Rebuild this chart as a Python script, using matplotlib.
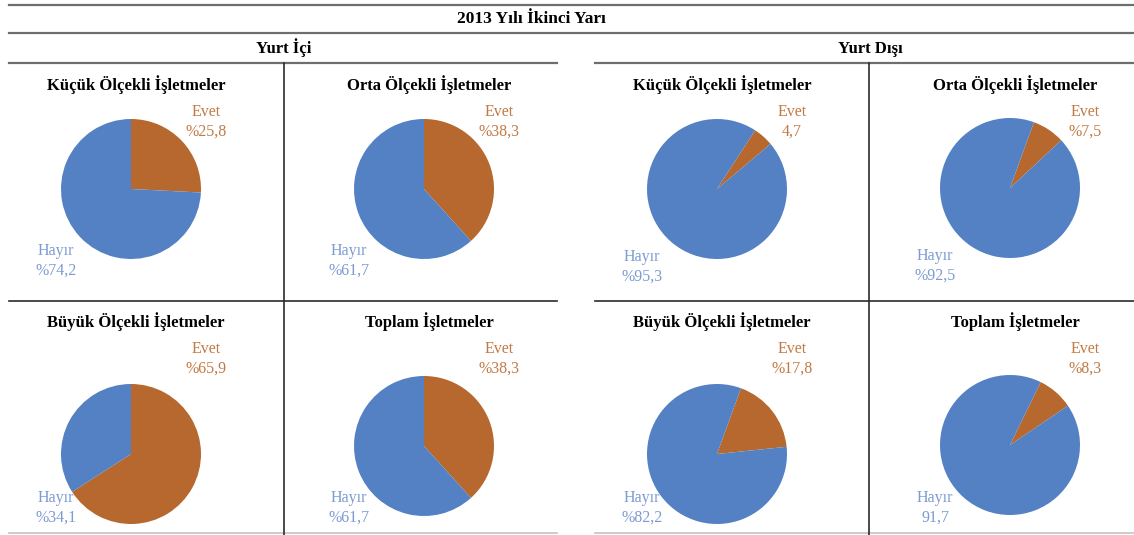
import matplotlib.pyplot as plt

plt.rcParams['font.family'] = ['Liberation Serif', 'DejaVu Serif']

# ─── VERİ ────────────────────────────────────────────────────────────────────
baslik = '2013 Yılı İkinci Yarı'
bolumler = ['Yurt İçi', 'Yurt Dışı']
isletmeler = ['Küçük Ölçekli İşletmeler', 'Orta Ölçekli İşletmeler',
              'Büyük Ölçekli İşletmeler', 'Toplam İşletmeler']
kategoriler = ['Evet', 'Hayır']

ici_evet = [25.8, 38.3, 65.9, 38.3]
ici_hayir = [74.2, 61.7, 34.1, 61.7]
disi_evet = [4.7, 7.5, 17.8, 8.3]
disi_hayir = [95.3, 92.5, 82.2, 91.7]

# etiketlerdeki "%" öneki (bazı etiketlerde yok)
ici_evet_onek = ['%', '%', '%', '%']
ici_hayir_onek = ['%', '%', '%', '%']
disi_evet_onek = ['', '%', '%', '%']
disi_hayir_onek = ['%', '%', '%', '']

# ─── DÜZEN (piksel) ──────────────────────────────────────────────────────────
W, H = 1134, 535
R = 70
MAVI, KAHVE = '#5481C4', '#B6682F'
MAVI_YAZI, KAHVE_YAZI = '#7C9BD3', '#C27A45'

# pasta merkezleri: Yurt İçi (4 panel), Yurt Dışı (4 panel)
merkez_ici = [(131, 189), (424, 189), (131, 454), (424, 446)]
merkez_disi = [(717, 189), (1010, 188), (717, 454), (1010, 445)]
aci_ici = [90, 90, 90, 90]
aci_disi = [57, 70, 70, 64]
baslik_y = [90, 90, 327, 327]
evet_y = [112, 112, 349, 349]
hayir_y_ici = [251, 251, 498, 498]
hayir_y_disi = [257, 256, 498, 498]


def fmt(onek, v):
    return onek + f'{v:.1f}'.replace('.', ',')


fig = plt.figure(figsize=(W / 100, H / 100), dpi=100)
bg = fig.add_axes([0, 0, 1, 1])
bg.set_xlim(0, W)
bg.set_ylim(H, 0)
bg.axis('off')

# çizgiler
bg.plot([9, W], [5, 5], color='#6E6E6E', lw=1.6)
bg.plot([9, W], [33, 33], color='#6E6E6E', lw=1.6)
for x0, x1 in [(9, 557), (595, W)]:
    bg.plot([x0, x1], [63, 63], color='#6E6E6E', lw=1.6)
    bg.plot([x0, x1], [301, 301], color='#2B2B2B', lw=1.2)
    bg.plot([x0, x1], [533, 533], color='#C4C4C4', lw=1.2)
for x in [283.5, 869]:
    bg.plot([x, x], [63, H], color='#2B2B2B', lw=1.2)

bg.text(531, 23, baslik, ha='center', va='baseline', fontsize=12.5, fontweight='bold')
bg.text(284, 53, bolumler[0], ha='center', va='baseline', fontsize=12, fontweight='bold')
bg.text(870, 53, bolumler[1], ha='center', va='baseline', fontsize=12, fontweight='bold')


def pasta(merkez, evet, hayir, aci, isim, by, ey, hy, eonek, honek):
    cx, cy = merkez
    ax = fig.add_axes([(cx - R) / W, 1 - (cy + R) / H, 2 * R / W, 2 * R / H])
    ax.pie([evet, hayir], colors=[KAHVE, MAVI], startangle=aci,
           counterclock=False, radius=1, wedgeprops=dict(linewidth=0))
    ax.set_xlim(-1, 1)
    ax.set_ylim(-1, 1)
    ax.set_aspect('equal')
    ax.axis('off')

    bg.text(cx + 5, by, isim, ha='center', va='baseline', fontsize=12, fontweight='bold')
    bg.text(cx + 75, ey, kategoriler[0], ha='center', va='center',
            fontsize=11.5, color=KAHVE_YAZI)
    bg.text(cx + 75, ey + 20, fmt(eonek, evet), ha='center', va='center',
            fontsize=11.5, color=KAHVE_YAZI)
    bg.text(cx - 75, hy, kategoriler[1], ha='center', va='center',
            fontsize=11.5, color=MAVI_YAZI)
    bg.text(cx - 75, hy + 20, fmt(honek, hayir), ha='center', va='center',
            fontsize=11.5, color=MAVI_YAZI)


for i in range(4):
    pasta(merkez_ici[i], ici_evet[i], ici_hayir[i], aci_ici[i], isletmeler[i],
          baslik_y[i], evet_y[i], hayir_y_ici[i], ici_evet_onek[i], ici_hayir_onek[i])
    pasta(merkez_disi[i], disi_evet[i], disi_hayir[i], aci_disi[i], isletmeler[i],
          baslik_y[i], evet_y[i], hayir_y_disi[i], disi_evet_onek[i], disi_hayir_onek[i])

fig.savefig('out.png', dpi=100)
